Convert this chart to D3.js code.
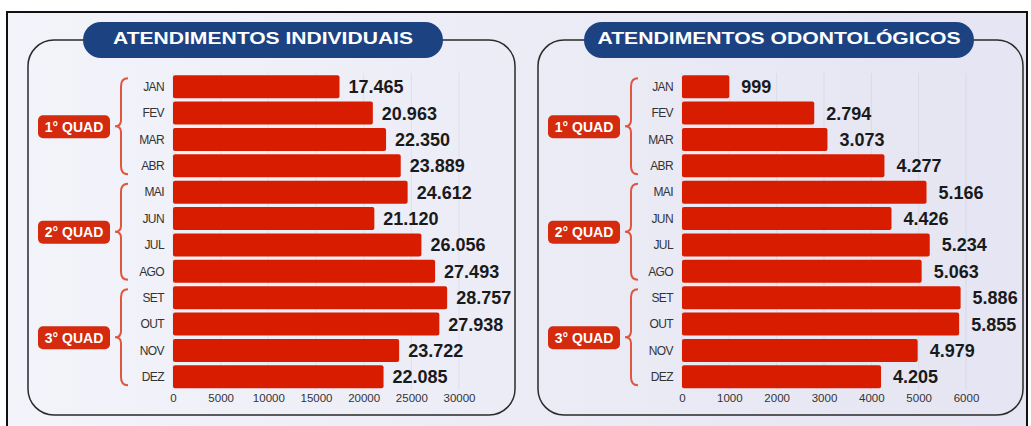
<!DOCTYPE html>
<html>
<head>
<meta charset="utf-8">
<script src="https://cdn.jsdelivr.net/npm/d3@7"></script>
<style>
  body { margin: 0; background: #fff; }
  svg { display: block; font-family: "Liberation Sans", Arial, sans-serif; }
</style>
</head>
<body>
<script>
var width = 1031;
var height = 426;

// data
var months = ["JAN", "FEV", "MAR", "ABR", "MAI", "JUN", "JUL", "AGO", "SET", "OUT", "NOV", "DEZ"];
var individuais = [17465, 20963, 22350, 23889, 24612, 21120, 26056, 27493, 28757, 27938, 23722, 22085];
var odontologicos = [999, 2794, 3073, 4277, 5166, 4426, 5234, 5063, 5886, 5855, 4979, 4205];
var quads = ["1° QUAD", "2° QUAD", "3° QUAD"];
var ticksIndiv = [0, 5000, 10000, 15000, 20000, 25000, 30000];
var ticksOdonto = [0, 1000, 2000, 3000, 4000, 5000, 6000];

var ptBR = d3.formatLocale({ decimal: ",", thousands: ".", grouping: [3], currency: ["R$", ""] });
var fmt = ptBR.format(",d");

var svg = d3.select("body").append("svg")
    .attr("width", width)
    .attr("height", height);

var defs = svg.append("defs");
var grad = defs.append("linearGradient").attr("id", "bg").attr("x1", 0).attr("x2", 1).attr("y1", 0).attr("y2", 0);
grad.append("stop").attr("offset", 0).attr("stop-color", "#f3f3fa");
grad.append("stop").attr("offset", 1).attr("stop-color", "#e5e5f3");

// outer frame
svg.append("rect")
    .attr("x", 7).attr("y", 12)
    .attr("width", 1020).attr("height", 440)
    .attr("fill", "url(#bg)")
    .attr("stroke", "#111")
    .attr("stroke-width", 2);

var y = d3.scaleBand()
    .domain(months)
    .range([73.5, 390])
    .paddingInner(0.13)
    .paddingOuter(0.065);

var panels = [
  { dx: 0, title: "ATENDIMENTOS INDIVIDUAIS", values: individuais, ticks: ticksIndiv, max: 30000,
    box: [28, 515], pill: [83, 443], titleLen: 300, x0: 173, x1: 459, badgeX: 38, braceX: 128 },
  { dx: 509, title: "ATENDIMENTOS ODONTOLÓGICOS", values: odontologicos, ticks: ticksOdonto, max: 6000,
    box: [538, 1023], pill: [584, 974], titleLen: 363, x0: 682, x1: 966, badgeX: 548, braceX: 638 }
];

panels.forEach(function(p) {
  var g = svg.append("g");

  // rounded panel outline
  g.append("rect")
      .attr("x", p.box[0]).attr("y", 40)
      .attr("width", p.box[1] - p.box[0]).attr("height", 375)
      .attr("rx", 26).attr("ry", 26)
      .attr("fill", "none")
      .attr("stroke", "#2a2a2a")
      .attr("stroke-width", 1.5);

  // title pill
  g.append("rect")
      .attr("x", p.pill[0]).attr("y", 22)
      .attr("width", p.pill[1] - p.pill[0]).attr("height", 36)
      .attr("rx", 18)
      .attr("fill", "#1c4282");
  g.append("text")
      .attr("x", (p.pill[0] + p.pill[1]) / 2 - p.titleLen / 2)
      .attr("y", 44)
      .attr("textLength", p.titleLen)
      .attr("lengthAdjust", "spacingAndGlyphs")
      .attr("fill", "#fff")
      .attr("font-size", 17)
      .attr("font-weight", "bold")
      .text(p.title);

  var x = d3.scaleLinear().domain([0, p.max]).range([p.x0, p.x1]);

  // gridlines
  g.append("g").selectAll("line")
    .data(p.ticks)
    .enter().append("line")
      .attr("x1", function(d) { return x(d); })
      .attr("x2", function(d) { return x(d); })
      .attr("y1", 73).attr("y2", 390)
      .attr("stroke", "#000")
      .attr("stroke-opacity", 0.06);

  // x axis
  var axis = g.append("g")
      .attr("transform", "translate(0,391)")
      .call(d3.axisBottom(x).tickValues(p.ticks).tickFormat(d3.format("d")).tickSize(0).tickPadding(3));
  axis.select(".domain").remove();
  axis.selectAll("text")
      .attr("font-family", "Liberation Sans, Arial, sans-serif")
      .attr("font-size", 11.5)
      .attr("fill", "#333");

  // bars
  g.append("g").selectAll("rect")
    .data(p.values)
    .enter().append("rect")
      .attr("x", x(0))
      .attr("y", function(d, i) { return y(months[i]); })
      .attr("width", function(d) { return x(d) - x(0); })
      .attr("height", y.bandwidth())
      .attr("rx", 2)
      .attr("fill", "#d81c00");

  // value labels
  g.append("g").selectAll("text")
    .data(p.values)
    .enter().append("text")
      .attr("x", function(d) { return x(d) + (p.dx ? 12 : 9); })
      .attr("y", function(d, i) { return y(months[i]) + y.bandwidth() / 2 + 6.5; })
      .attr("font-size", 18)
      .attr("font-weight", "bold")
      .attr("fill", "#1a1a1a")
      .text(function(d) { return fmt(d); });

  // month labels
  g.append("g").selectAll("text")
    .data(months)
    .enter().append("text")
      .attr("x", p.x0 - 9)
      .attr("y", function(d) { return y(d) + y.bandwidth() / 2 + 4.3; })
      .attr("text-anchor", "end")
      .attr("font-size", 12)
      .attr("letter-spacing", -0.6)
      .attr("fill", "#333")
      .text(function(d) { return d; });

  // quadrimester braces and badges
  quads.forEach(function(q, k) {
    var top = y(months[k * 4]) + 3;
    var bot = y(months[k * 4 + 3]) + y.bandwidth() - 3;
    var mid = (top + bot) / 2;
    var xr = p.braceX, xm = p.braceX - 7, xt = p.braceX - 13;
    var path = d3.path();
    path.moveTo(xr, top);
    path.quadraticCurveTo(xm, top, xm, top + 8);
    path.lineTo(xm, mid - 6);
    path.quadraticCurveTo(xm, mid, xt, mid);
    path.quadraticCurveTo(xm, mid, xm, mid + 6);
    path.lineTo(xm, bot - 8);
    path.quadraticCurveTo(xm, bot, xr, bot);
    g.append("path")
        .attr("d", path.toString())
        .attr("fill", "none")
        .attr("stroke", "#e0553d")
        .attr("stroke-width", 2);

    g.append("rect")
        .attr("x", p.badgeX).attr("y", mid - 11)
        .attr("width", 72).attr("height", 23)
        .attr("rx", 5)
        .attr("fill", "#d42a0e");
    g.append("text")
        .attr("x", p.badgeX + 36)
        .attr("y", mid + 5.5)
        .attr("text-anchor", "middle")
        .attr("font-size", 14)
        .attr("font-weight", "bold")
        .attr("fill", "#fff")
        .text(q);
  });
});
</script>
</body>
</html>
